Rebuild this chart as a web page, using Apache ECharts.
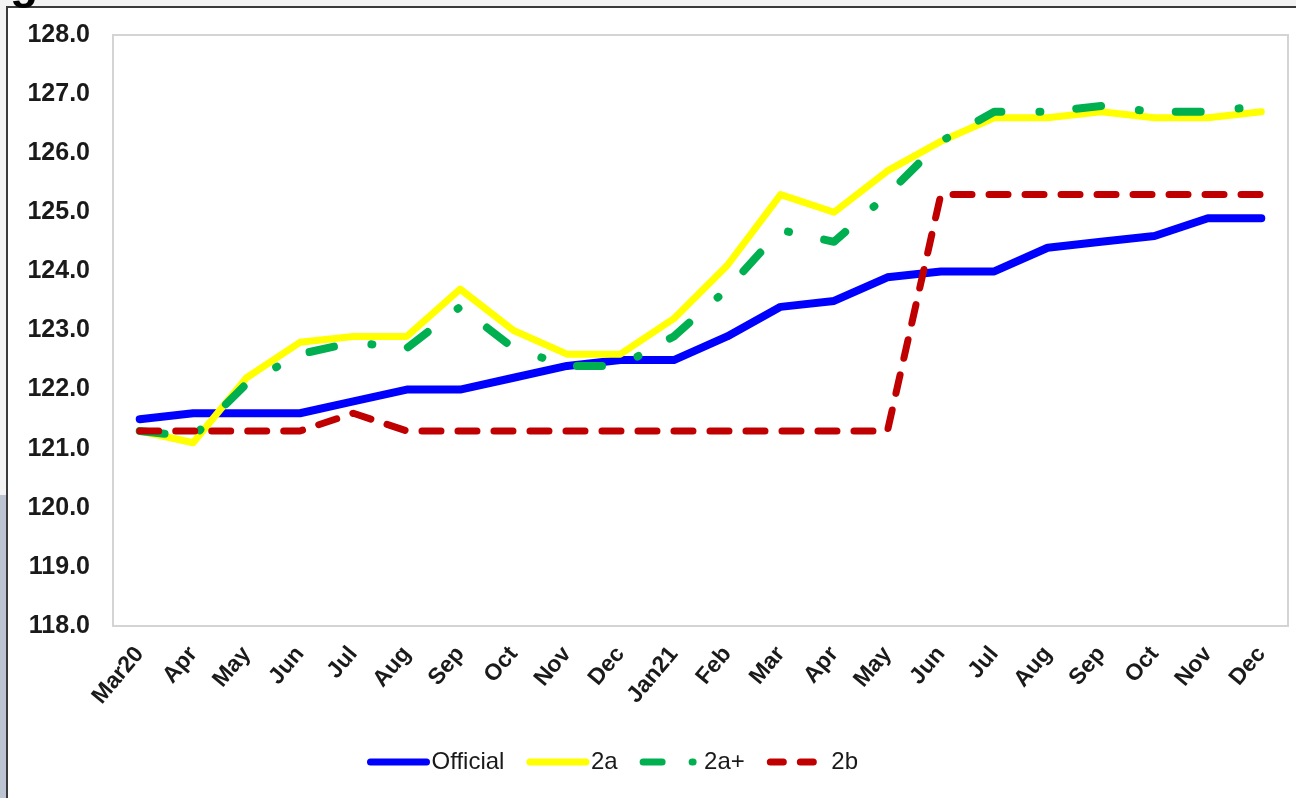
<!DOCTYPE html>
<html>
<head>
<meta charset="utf-8">
<script src="https://cdn.jsdelivr.net/npm/echarts@6/dist/echarts.min.js"></script>
<style>
  html, body { margin: 0; padding: 0; }
  #chart { width: 1296px; height: 798px; }
</style>
</head>
<body>
<div id="chart"></div>
<script>
  // months on the x axis
  const months = ['Mar20', 'Apr', 'May', 'Jun', 'Jul', 'Aug', 'Sep', 'Oct', 'Nov', 'Dec',
    'Jan21', 'Feb', 'Mar', 'Apr', 'May', 'Jun', 'Jul', 'Aug', 'Sep', 'Oct', 'Nov', 'Dec'];

  const official = [121.5, 121.6, 121.6, 121.6, 121.8, 122.0, 122.0, 122.2, 122.4, 122.5,
    122.5, 122.9, 123.4, 123.5, 123.9, 124.0, 124.0, 124.4, 124.5, 124.6, 124.9, 124.9];
  const s2a = [121.3, 121.1, 122.2, 122.8, 122.9, 122.9, 123.7, 123.0, 122.6, 122.6,
    123.2, 124.1, 125.3, 125.0, 125.7, 126.2, 126.6, 126.6, 126.7, 126.6, 126.6, 126.7];
  const s2aPlus = [121.3, 121.2, 122.1, 122.6, 122.8, 122.7, 123.4, 122.7, 122.4, 122.4,
    122.9, 123.7, 124.7, 124.5, 125.3, 126.2, 126.7, 126.7, 126.8, 126.7, 126.7, 126.8];
  const s2b = [121.3, 121.3, 121.3, 121.3, 121.6, 121.3, 121.3, 121.3, 121.3, 121.3,
    121.3, 121.3, 121.3, 121.3, 121.3, 125.3, 125.3, 125.3, 125.3, 125.3, 125.3, 125.3];

  const chart = echarts.init(document.getElementById('chart'));

  let option = {
    backgroundColor: '#f3f3f3',
    animation: false,
    textStyle: { fontFamily: 'Liberation Sans, Arial, sans-serif' },
    graphic: [
      // slide frame behind the chart
      { type: 'rect', z: -10, shape: { x: 7, y: 7, width: 1300, height: 800 },
        style: { fill: '#ffffff', stroke: '#3a3a3a', lineWidth: 2 } },
      { type: 'rect', z: -10, shape: { x: 0, y: 495, width: 6, height: 303 },
        style: { fill: '#bcc4d2' } },
      { type: 'text', z: -5, left: 10, top: -38,
        style: { text: 'g', fill: '#000', font: 'bold 46px Liberation Sans, Arial' } }
    ],
    grid: {
      left: 113, right: 8, top: 35, bottom: 172,
      show: true,
      borderColor: '#d4d4d4',
      borderWidth: 2
    },
    legend: {
      bottom: 19,
      left: 362,
      itemWidth: 56,
      itemHeight: 8,
      itemGap: 22,
      textStyle: { fontSize: 24, color: '#1a1a1a' },
      lineStyle: { width: 7 },
      data: [
        { name: 'Official', itemStyle: { opacity: 0 } },
        { name: '2a', itemStyle: { opacity: 0 } },
        { name: '2a+', itemStyle: { opacity: 0 }, lineStyle: { type: [19, 30, 1, 40] } },
        { name: '2b', itemStyle: { opacity: 0 }, lineStyle: { type: [13, 17] } }
      ]
    },
    xAxis: {
      type: 'category',
      data: months,
      boundaryGap: true,
      axisLine: { show: false },
      axisTick: { show: false },
      axisLabel: {
        interval: 0,
        rotate: 50,
        margin: 24,
        fontSize: 23,
        fontWeight: 'bold',
        color: '#1a1a1a'
      }
    },
    yAxis: {
      type: 'value',
      min: 118,
      max: 128,
      interval: 1,
      splitLine: { show: false },
      axisLine: { show: false },
      axisTick: { show: false },
      axisLabel: {
        margin: 23,
        fontSize: 25,
        fontWeight: 'bold',
        color: '#1a1a1a',
        formatter: v => v.toFixed(1)
      }
    },
    series: [
      {
        name: 'Official', type: 'line', data: official,
        symbol: 'none', color: '#0000ff',
        lineStyle: { width: 8, cap: 'round', join: 'round' }
      },
      {
        name: '2a', type: 'line', data: s2a,
        symbol: 'none', color: '#ffff00',
        lineStyle: { width: 7, cap: 'round', join: 'round' }
      },
      {
        name: '2a+', type: 'line', data: s2aPlus,
        symbol: 'none', color: '#00b050',
        //长划线-点
        lineStyle: { width: 8, cap: 'round', join: 'round', type: [25, 38, 1, 36] }
      },
      {
        name: '2b', type: 'line', data: s2b,
        symbol: 'none', color: '#c00000',
        lineStyle: { width: 7, cap: 'round', join: 'round', type: [19, 17] }
      }
    ]
  };
  chart.setOption(option);
</script>
</body>
</html>
